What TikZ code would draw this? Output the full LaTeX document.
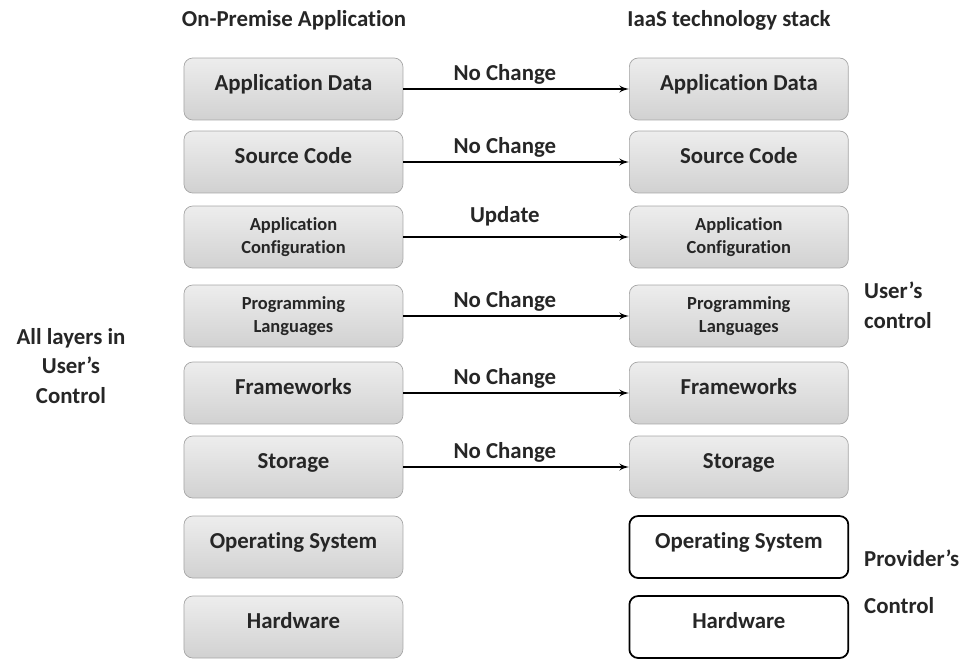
\documentclass[tikz,border=0pt]{standalone}
\usepackage{fontspec}
\setmainfont{Carlito}[RawFeature={-liga;-clig;-calt;-dlig}]
\usetikzlibrary{shapes, arrows, positioning, calc}
\tikzstyle{box} = [rectangle, draw=gray!70, rounded corners=5pt, top color=gray!14, bottom color=gray!36, minimum width=4.38cm, minimum height=1.24cm, text=black!85]
\tikzstyle{layer} = [box, font=\bfseries\fontsize{13}{16}\selectfont, text height=.32cm, text depth=.28cm]
\tikzstyle{twoline} = [box, font=\bfseries\fontsize{10.5}{13}\selectfont, align=center]
\tikzstyle{provider} = [rectangle, draw=black, line width=1pt, rounded corners=5pt, fill=white, minimum width=4.38cm, minimum height=1.24cm, text=black!85, font=\bfseries\fontsize{13}{16}\selectfont, text height=.32cm, text depth=.28cm]
\tikzstyle{line} = [draw, line width=.9pt, -latex']
\tikzstyle{lbl} = [font=\bfseries\fontsize{13}{16}\selectfont, text=black!85, inner sep=2pt]
\tikzstyle{side} = [font=\bfseries\fontsize{13}{17}\selectfont, text=black!85]

\begin{document}
\begin{tikzpicture}[x=0.02cm, y=-0.02cm]
    \useasboundingbox (0,0) rectangle (967,659);
    %%% Headings:
    \node[lbl] (premhead) at (294,20) {On-Premise Application};
    \node[lbl] (iaashead) at (729,20) {IaaS technology stack};
    %%% On-premise stack:
    \begin{scope}[xshift = 5.87cm]
      \node[layer] (dataL) at (0,89) {Application Data};
      \node[layer] (codeL) at (0,162) {Source Code};
      \node[twoline] (confL) at (0,237) {Application\\Configuration};
      \node[twoline] (langL) at (0,316) {Programming\\Languages};
      \node[layer] (frameL) at (0,393) {Frameworks};
      \node[layer] (storeL) at (0,467) {Storage};
      \node[layer] (osL) at (0,547) {Operating System};
      \node[layer] (hwL) at (0,627) {Hardware};
    \end{scope}
    %%% IaaS stack:
    \begin{scope}[xshift = 14.78cm]
      \node[layer] (dataR) at (0,89) {Application Data};
      \node[layer] (codeR) at (0,162) {Source Code};
      \node[twoline] (confR) at (0,237) {Application\\Configuration};
      \node[twoline] (langR) at (0,316) {Programming\\Languages};
      \node[layer] (frameR) at (0,393) {Frameworks};
      \node[layer] (storeR) at (0,467) {Storage};
      \node[provider] (osR) at (0,547) {Operating System};
      \node[provider] (hwR) at (0,627) {Hardware};
    \end{scope}
    %%% Control:
    \node[side, align=center] (allctl) at (71,366) {All layers in\\User's\\Control};
    \node[side, align=left, anchor=west] (userctl) at (858,305) {User's\\control};
    \node[side, align=left, anchor=west] (provctl) at (858,582) {Provider's\\[9.7pt]Control};
    %%% Migration:
    \path [line] (dataL) -- node[lbl, above, pos=0.45] (chg1) {No Change} (dataR);
    \path [line] (codeL) -- node[lbl, above, pos=0.45] (chg2) {No Change} (codeR);
    \path [line] (confL) -- node[lbl, above, pos=0.45, yshift=4pt] (chg3) {Update} (confR);
    \path [line] (langL) -- node[lbl, above, pos=0.45] (chg4) {No Change} (langR);
    \path [line] (frameL) -- node[lbl, above, pos=0.45] (chg5) {No Change} (frameR);
    \path [line] (storeL) -- node[lbl, above, pos=0.45] (chg6) {No Change} (storeR);
  \end{tikzpicture}
\end{document}
